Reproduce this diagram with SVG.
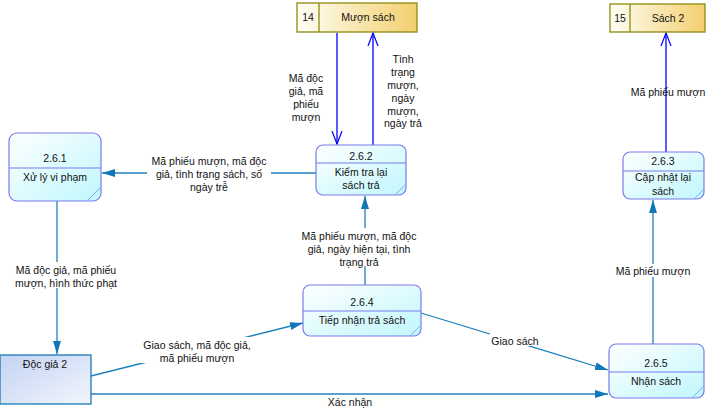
<svg xmlns="http://www.w3.org/2000/svg" width="710" height="412" viewBox="0 0 710 412">
<defs>
<linearGradient id="gProc" x1="0" y1="0" x2="1" y2="1">
<stop offset="0" stop-color="#ffffff"/><stop offset="1" stop-color="#bff7fd"/>
</linearGradient>
<linearGradient id="gStore" x1="0" y1="0" x2="1" y2="0">
<stop offset="0" stop-color="#fffff6"/><stop offset="1" stop-color="#f3cf6e"/>
</linearGradient>
<linearGradient id="gEnt" x1="0" y1="0" x2="1" y2="1">
<stop offset="0" stop-color="#c3d3f2"/><stop offset="1" stop-color="#f2f5fd"/>
</linearGradient>
<marker id="aFill" markerUnits="userSpaceOnUse" markerWidth="14" markerHeight="10" refX="13" refY="5" orient="auto">
<path d="M0,1 L13,5 L0,9 Z" fill="#1177b8"/>
</marker>
<marker id="aOpen" markerUnits="userSpaceOnUse" markerWidth="14" markerHeight="12" refX="13" refY="6" orient="auto">
<path d="M0,1 L13,6 L0,11" fill="none" stroke="#0000ff" stroke-width="1.2"/>
</marker>
</defs>
<style>
text{font-family:"Liberation Sans",Arial,sans-serif;font-size:10.5px;fill:#111;text-anchor:middle}
.proc{fill:url(#gProc);stroke:#7b7bec;stroke-width:1.2}
.div{stroke:#7b7bec;stroke-width:1.2}
.fold{stroke:#8aa8ee;stroke-width:1}
.store{fill:url(#gStore);stroke:#8a8a10;stroke-width:1.3}
.ent{fill:url(#gEnt);stroke:#1a7ab5;stroke-width:1.3}
.f{fill:none;stroke:#1f80c0;stroke-width:1.3;marker-end:url(#aFill)}
.s{fill:none;stroke:#0000ff;stroke-width:1.3;marker-end:url(#aOpen)}
.bg{fill:#ffffff}
</style>

<g id="connectors">
<line class="s" x1="337" y1="33" x2="337" y2="144"/>
<line class="s" x1="373" y1="145" x2="373" y2="33"/>
<line class="f" x1="316" y1="173" x2="102" y2="173"/>
<line class="f" x1="57" y1="201" x2="57" y2="354"/>
<line class="f" x1="365" y1="285" x2="365" y2="196"/>
<line class="f" x1="91" y1="376" x2="303" y2="323"/>
<line class="f" x1="421" y1="313" x2="608" y2="370"/>
<line class="f" x1="91" y1="394" x2="608" y2="394"/>
<line class="f" x1="653" y1="344" x2="653" y2="200"/>
<line class="s" x1="666" y1="152" x2="666" y2="33"/>
</g>

<g id="labels">
<rect class="bg" x="283" y="70" width="46" height="52"/>
<text x="306" y="82">Mã độc</text><text x="306" y="95">giả, mã</text><text x="306" y="108">phiếu</text><text x="306" y="121">mượn</text>
<rect class="bg" x="382" y="52" width="44" height="76"/>
<text x="403" y="63">Tình</text><text x="403" y="76">trạng</text><text x="403" y="89">mượn,</text><text x="403" y="102">ngày</text><text x="403" y="115">mượn,</text><text x="403" y="127">ngày trả</text>
<rect class="bg" x="147" y="153" width="124" height="38"/>
<text x="209" y="165">Mã phiếu mượn, mã độc</text><text x="209" y="178">giả, tình trạng sách, số</text><text x="209" y="191">ngày trễ</text>
<rect class="bg" x="12" y="262" width="108" height="26"/>
<text x="66" y="274">Mã độc giả, mã phiếu</text><text x="66" y="287">mượn, hình thức phạt</text>
<rect class="bg" x="302" y="228" width="114" height="38"/>
<text x="359" y="240">Mã phiếu mượn, mã độc</text><text x="359" y="253">giả, ngày hiện tại, tình</text><text x="359" y="266">trạng trả</text>
<rect class="bg" x="140" y="337" width="114" height="26"/>
<text x="197" y="349">Giao sách, mã độc giả,</text><text x="197" y="362">mã phiếu mượn</text>
<rect class="bg" x="490" y="333" width="50" height="13"/>
<text x="515" y="345">Giao sách</text>
<text x="350" y="406">Xác nhận</text>
<rect class="bg" x="614" y="264" width="78" height="13"/>
<text x="653" y="275">Mã phiếu mượn</text>
<text x="668" y="96">Mã phiếu mượn</text>
</g>

<g id="store14">
<rect class="store" x="297" y="3" width="120" height="29"/>
<line x1="319" y1="3" x2="319" y2="32" stroke="#8a8a10" stroke-width="1.3"/>
<text x="308" y="21">14</text>
<text x="368" y="21">Mượn sách</text>
</g>

<g id="store15">
<rect class="store" x="610" y="4" width="95" height="28"/>
<line x1="630" y1="4" x2="630" y2="32" stroke="#8a8a10" stroke-width="1.3"/>
<text x="620" y="22">15</text>
<text x="668" y="22">Sách 2</text>
</g>

<g id="p261">
<rect class="proc" x="9" y="133" width="92" height="68" rx="8"/>
<line class="div" x1="9" y1="168" x2="101" y2="168"/>
<line class="fold" x1="87" y1="201" x2="101" y2="187"/>
<text x="55" y="162">2.6.1</text>
<text x="55" y="181">Xử lý vi phạm</text>
</g>

<g id="p262">
<rect class="proc" x="316" y="145" width="90" height="50" rx="7"/>
<line class="div" x1="316" y1="163" x2="406" y2="163"/>
<line class="fold" x1="395" y1="195" x2="406" y2="184"/>
<text x="361" y="160">2.6.2</text>
<text x="361" y="176">Kiểm tra lại</text>
<text x="361" y="189">sách trả</text>
</g>

<g id="p263">
<rect class="proc" x="623" y="152" width="81" height="47" rx="7"/>
<line class="div" x1="623" y1="171" x2="704" y2="171"/>
<line class="fold" x1="694" y1="199" x2="704" y2="189"/>
<text x="663" y="165">2.6.3</text>
<text x="663" y="181">Cập nhật lại</text>
<text x="663" y="195">sách</text>
</g>

<g id="p264">
<rect class="proc" x="303" y="285" width="118" height="51" rx="7"/>
<line class="div" x1="303" y1="311" x2="421" y2="311"/>
<line class="fold" x1="410" y1="336" x2="421" y2="325"/>
<text x="362" y="306">2.6.4</text>
<text x="362" y="324">Tiếp nhận trả sách</text>
</g>

<g id="p265">
<rect class="proc" x="609" y="344" width="95" height="54" rx="7"/>
<line class="div" x1="609" y1="372" x2="704" y2="372"/>
<line class="fold" x1="692" y1="398" x2="704" y2="386"/>
<text x="656" y="367">2.6.5</text>
<text x="656" y="385">Nhận sách</text>
</g>

<g id="docgia2">
<rect class="ent" x="0" y="355" width="91" height="49"/>
<text x="45" y="368">Độc giả 2</text>
</g>
</svg>
